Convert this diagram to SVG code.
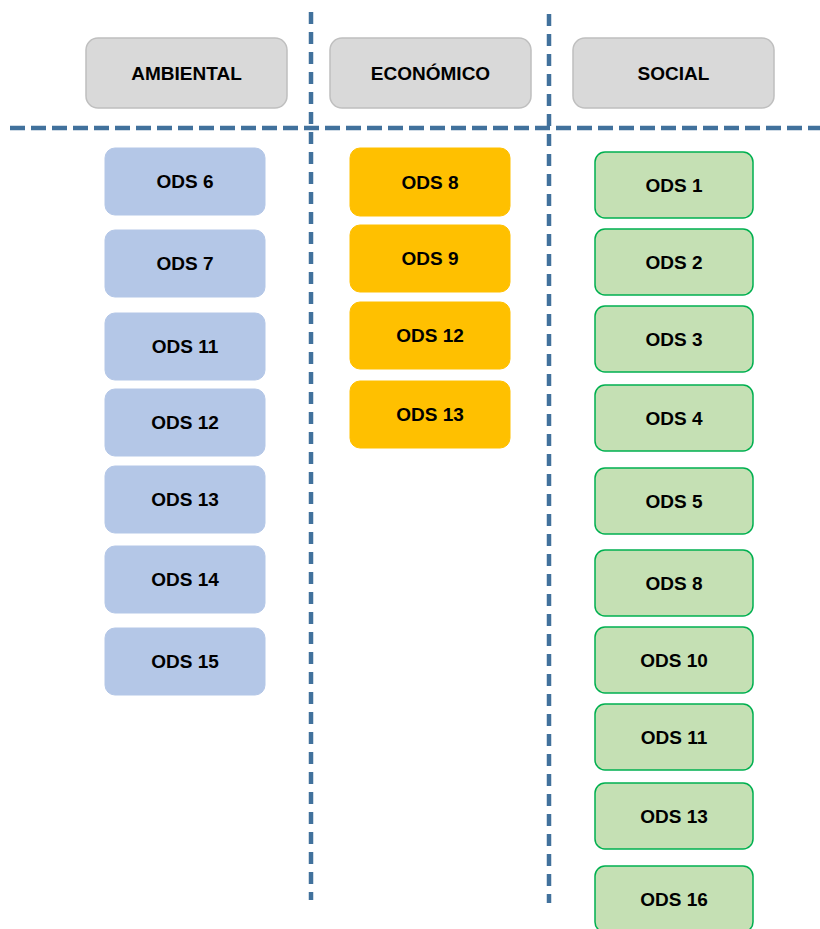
<svg xmlns="http://www.w3.org/2000/svg" width="820" height="929" viewBox="0 0 820 929">
<style>
text{font-family:"Liberation Sans",Arial,sans-serif;font-weight:bold;font-size:19px;fill:#000;text-anchor:middle;dominant-baseline:central}
.hdr rect{fill:#D9D9D9;stroke:#BFBFBF;stroke-width:1.5}
.amb rect{fill:#B4C7E7;stroke:#B4C7E7;stroke-width:1}
.eco rect{fill:#FFC000;stroke:#FFC000;stroke-width:1}
.soc rect{fill:#C5E0B4;stroke:#00B050;stroke-width:1.5}
.hd{stroke:#41719C;stroke-width:4.5;stroke-dasharray:15 6;fill:none}
.vd{stroke:#41719C;stroke-width:4.5;stroke-dasharray:12 8;fill:none}
</style>
<rect width="820" height="929" fill="#fff"/>
<g id="connectors">
<line class="hd" x1="10" y1="128" x2="820" y2="128"/>
<line class="vd" x1="311" y1="12" x2="311" y2="900"/>
<line class="vd" x1="549" y1="14" x2="549" y2="903"/>
</g>
<g id="h-ambiental" class="hdr"><rect x="86" y="38" width="201" height="70" rx="12"/><text x="186.5" y="73">AMBIENTAL</text></g>
<g id="h-economico" class="hdr"><rect x="330" y="38" width="201" height="70" rx="12"/><text x="430.5" y="73">ECONÓMICO</text></g>
<g id="h-social" class="hdr"><rect x="573" y="38" width="201" height="70" rx="12"/><text x="673.5" y="73">SOCIAL</text></g>

<g id="a6" class="amb"><rect x="105" y="148" width="160" height="67" rx="10"/><text x="185" y="181.5">ODS 6</text></g>
<g id="a7" class="amb"><rect x="105" y="230" width="160" height="67" rx="10"/><text x="185" y="263.5">ODS 7</text></g>
<g id="a11" class="amb"><rect x="105" y="313" width="160" height="67" rx="10"/><text x="185" y="346.5">ODS 11</text></g>
<g id="a12" class="amb"><rect x="105" y="389" width="160" height="67" rx="10"/><text x="185" y="422.5">ODS 12</text></g>
<g id="a13" class="amb"><rect x="105" y="466" width="160" height="67" rx="10"/><text x="185" y="499.5">ODS 13</text></g>
<g id="a14" class="amb"><rect x="105" y="546" width="160" height="67" rx="10"/><text x="185" y="579.5">ODS 14</text></g>
<g id="a15" class="amb"><rect x="105" y="628" width="160" height="67" rx="10"/><text x="185" y="661.5">ODS 15</text></g>

<g id="e8" class="eco"><rect x="350" y="148" width="160" height="68" rx="10"/><text x="430" y="182">ODS 8</text></g>
<g id="e9" class="eco"><rect x="350" y="225" width="160" height="67" rx="10"/><text x="430" y="258.5">ODS 9</text></g>
<g id="e12" class="eco"><rect x="350" y="302" width="160" height="67" rx="10"/><text x="430" y="335.5">ODS 12</text></g>
<g id="e13" class="eco"><rect x="350" y="381" width="160" height="67" rx="10"/><text x="430" y="414.5">ODS 13</text></g>

<g id="s1" class="soc"><rect x="595" y="152" width="158" height="66" rx="10"/><text x="674" y="185">ODS 1</text></g>
<g id="s2" class="soc"><rect x="595" y="229" width="158" height="66" rx="10"/><text x="674" y="262">ODS 2</text></g>
<g id="s3" class="soc"><rect x="595" y="306" width="158" height="66" rx="10"/><text x="674" y="339">ODS 3</text></g>
<g id="s4" class="soc"><rect x="595" y="385" width="158" height="66" rx="10"/><text x="674" y="418">ODS 4</text></g>
<g id="s5" class="soc"><rect x="595" y="468" width="158" height="66" rx="10"/><text x="674" y="501">ODS 5</text></g>
<g id="s8" class="soc"><rect x="595" y="550" width="158" height="66" rx="10"/><text x="674" y="583">ODS 8</text></g>
<g id="s10" class="soc"><rect x="595" y="627" width="158" height="66" rx="10"/><text x="674" y="660">ODS 10</text></g>
<g id="s11" class="soc"><rect x="595" y="704" width="158" height="66" rx="10"/><text x="674" y="737">ODS 11</text></g>
<g id="s13" class="soc"><rect x="595" y="783" width="158" height="66" rx="10"/><text x="674" y="816">ODS 13</text></g>
<g id="s16" class="soc"><rect x="595" y="866" width="158" height="66" rx="10"/><text x="674" y="899">ODS 16</text></g>
</svg>
